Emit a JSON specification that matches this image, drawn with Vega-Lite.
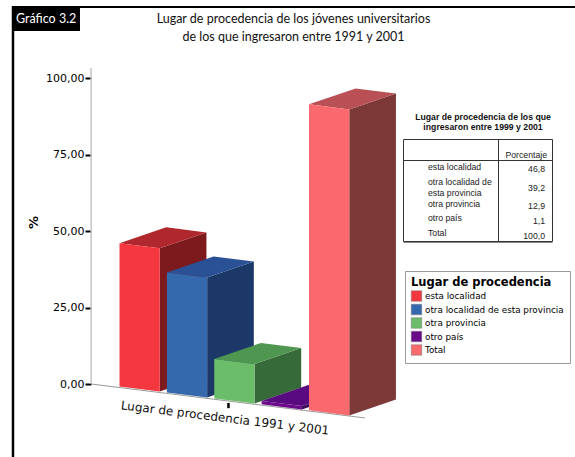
{
"$schema":"https://vega.github.io/schema/vega-lite/v6.json",
"width":575,"height":457,"padding":0,"autosize":{"type":"none"},
"background":"white",
"config":{"view":{"stroke":null}},
"title":{"text":["Lugar de procedencia de los jóvenes universitarios","de los que ingresaron entre 1991 y 2001"],"font":"Lato","fontSize":12.5,"fontWeight":"normal","color":"#111","anchor":"middle","dx":6,"dy":43,"offset":0,"lineHeight":17.5},
"datasets":{
"barras":[
{"procedencia":"esta localidad","porcentaje":46.8},
{"procedencia":"otra localidad de esta provincia","porcentaje":39.2},
{"procedencia":"otra provincia","porcentaje":12.9},
{"procedencia":"otro país","porcentaje":1.1},
{"procedencia":"Total","porcentaje":100}
],
"tabla":[
{"etiqueta":"esta localidad","valor":"46,8"},
{"etiqueta":"otra localidad de esta provincia","valor":"39,2"},
{"etiqueta":"otra provincia","valor":"12,9"},
{"etiqueta":"otro país","valor":"1,1"},
{"etiqueta":"Total","valor":"100,0"}
],
"uno":[{"k":1}]},
"layer":[
{"data":{"name":"uno"},"mark":{"type":"rule","color":"black","strokeWidth":2.5},"encoding":{"x":{"value":13},"x2":{"value":13},"y":{"value":6},"y2":{"value":457}}},
{"data":{"name":"uno"},"mark":{"type":"rule","color":"black","strokeWidth":2},"encoding":{"x":{"value":13},"x2":{"value":575},"y":{"value":7},"y2":{"value":7}}},
{"data":{"name":"uno"},"mark":{"type":"rect","color":"black"},"encoding":{"x":{"value":13},"x2":{"value":80},"y":{"value":7},"y2":{"value":31}}},
{"data":{"values":[{"t":"Gráfico 3.2"}]},"mark":{"type":"text","color":"white","font":"Lato","fontSize":12.5,"align":"left","baseline":"middle"},"encoding":{"text":{"field":"t"},"x":{"value":16},"y":{"value":19}}},

{"data":{"values":[{"v":0,"w":103.3}]},"mark":{"type":"rule","color":"#c4c4c4","strokeWidth":1.5},
"encoding":{"x":{"datum":-0.6,"type":"quantitative","scale":{"domain":[0,4],"range":[119.5,309],"zero":false,"nice":false},"axis":null},
"y":{"field":"v","type":"quantitative","scale":{"domain":[0,100],"range":[384,78],"zero":false,"nice":false},
"axis":{"values":[0,25,50,75,100],"offset":-91,"domain":false,"grid":false,"tickColor":"black","tickWidth":2,"tickSize":6,"labelExpr":"replace(format(datum.value,'.2f'),'.',',')","labelFont":"DejaVu Sans","labelFontSize":11,"labelColor":"black","labelPadding":1,
"title":"%","titleFont":"DejaVu Sans","titleFontSize":13,"titleFontWeight":"bold","titleColor":"black","titleAngle":-90,"titleX":-58,"titleY":222,"titleAlign":"center","titleBaseline":"middle"}},
"y2":{"field":"w"}}},
{"data":{"values":[{"a":0,"b":-11.1}]},"mark":{"type":"rule","color":"#999","strokeWidth":1},
"encoding":{"x":{"datum":-0.6,"type":"quantitative"},"x2":{"datum":5.18},"y":{"field":"a","type":"quantitative"},"y2":{"field":"b"}}},
{"data":{"values":[{"a":-6.2,"b":-7.9}]},"mark":{"type":"rule","color":"black","strokeWidth":2.5},
"encoding":{"x":{"datum":2.3,"type":"quantitative"},"y":{"field":"a","type":"quantitative"},"y2":{"field":"b"}}},

{"data":{"name":"barras"},
"transform":[
{"window":[{"op":"row_number","as":"fila"}]},
{"calculate":"[0,1,2,3]","as":"v"},{"flatten":["v"]},
{"calculate":"1","as":"u"},
{"calculate":"[0,1,1,0][datum.v]","as":"d"},
{"calculate":"[1,1,0,0][datum.v]","as":"t"},
{"calculate":"datum.fila-1+0.85*datum.u+0.985*datum.d","as":"px"},
{"calculate":"-0.8-1.95*(datum.fila-1+0.85*datum.u)+datum.t*datum.porcentaje+5.2*datum.d","as":"py"}
],
"mark":{"type":"line","strokeWidth":0,"strokeOpacity":0},
"encoding":{"x":{"field":"px","type":"quantitative"},"y":{"field":"py","type":"quantitative"},"order":{"field":"v"},
"fill":{"field":"procedencia","type":"nominal","legend":null,"scale":{"domain":["esta localidad","otra localidad de esta provincia","otra provincia","otro país","Total"],"range":["#7D1A1E","#1C3868","#366A39","#3E0A5E","#7D3838"]}}}},

{"data":{"name":"barras"},
"transform":[
{"window":[{"op":"row_number","as":"fila"}]},
{"calculate":"[0,1,2,3]","as":"v"},{"flatten":["v"]},
{"calculate":"[0,1,1,0][datum.v]","as":"u"},
{"calculate":"[0,0,1,1][datum.v]","as":"d"},
{"calculate":"datum.fila-1+0.85*datum.u+0.985*datum.d","as":"px"},
{"calculate":"-0.8-1.95*(datum.fila-1+0.85*datum.u)+datum.porcentaje+5.2*datum.d","as":"py"}
],
"mark":{"type":"line","strokeWidth":0,"strokeOpacity":0},
"encoding":{"x":{"field":"px","type":"quantitative"},"y":{"field":"py","type":"quantitative"},"order":{"field":"v"},
"fill":{"field":"procedencia","type":"nominal","legend":null,"scale":{"domain":["esta localidad","otra localidad de esta provincia","otra provincia","otro país","Total"],"range":["#B0282D","#2A5096","#4F9650","#5A0A80","#B85055"]}}}},

{"data":{"name":"barras"},
"transform":[
{"window":[{"op":"row_number","as":"fila"}]},
{"calculate":"[0,1,2,3]","as":"v"},{"flatten":["v"]},
{"calculate":"[0,1,1,0][datum.v]","as":"u"},
{"calculate":"[1,1,0,0][datum.v]","as":"t"},
{"calculate":"datum.fila-1+0.85*datum.u","as":"px"},
{"calculate":"-0.8-1.95*(datum.fila-1+0.85*datum.u)+datum.t*datum.porcentaje","as":"py"}
],
"mark":{"type":"line","strokeWidth":0,"strokeOpacity":0},
"encoding":{"x":{"field":"px","type":"quantitative"},"y":{"field":"py","type":"quantitative"},"order":{"field":"v"},
"fill":{"field":"procedencia","type":"nominal","scale":{"domain":["esta localidad","otra localidad de esta provincia","otra provincia","otro país","Total"],"range":["#F5383F","#3469AD","#6CBD6A","#6A0A8A","#F9696E"]},
"legend":{"title":"Lugar de procedencia","orient":"none","legendX":405,"legendY":271,"padding":6,"fillColor":"white","strokeColor":"#999","symbolType":"square","symbolSize":110,"symbolStrokeColor":"#777","symbolStrokeWidth":0.5,"titleFont":"DejaVu Sans","titleFontSize":11.5,"titleFontWeight":"bold","titleColor":"black","titlePadding":2,"labelFont":"DejaVu Sans","labelFontSize":8.8,"labelColor":"black","rowPadding":0.5,"labelOffset":3,"labelLimit":200}}}},

{"data":{"values":[{"t":"Lugar de procedencia 1991 y 2001"}]},"mark":{"type":"text","font":"DejaVu Sans","fontSize":12,"angle":7,"color":"#111","align":"center","baseline":"middle"},"encoding":{"text":{"field":"t"},"x":{"value":225},"y":{"value":418}}},

{"data":{"values":[{"t":"Lugar de procedencia de los que"},{"t":"ingresaron entre 1999 y 2001"}]},"transform":[{"window":[{"op":"row_number","as":"n"}]},{"calculate":"107+10*datum.n","as":"yy"}],
"mark":{"type":"text","font":"Liberation Sans","fontSize":8.7,"fontWeight":"bold","color":"#111","align":"center","baseline":"middle"},"encoding":{"text":{"field":"t"},"x":{"value":483},"y":{"field":"yy","type":"quantitative","scale":null,"axis":null}}},
{"data":{"name":"uno"},"mark":{"type":"rect","fill":"white","stroke":"#333","strokeWidth":1},"encoding":{"x":{"value":403.5},"x2":{"value":552.5},"y":{"value":139.5},"y2":{"value":241.5}}},
{"data":{"name":"uno"},"mark":{"type":"rule","color":"#333","strokeWidth":1},"encoding":{"x":{"value":403.5},"x2":{"value":552.5},"y":{"value":160.5},"y2":{"value":160.5}}},
{"data":{"name":"uno"},"mark":{"type":"rule","color":"#333","strokeWidth":1},"encoding":{"x":{"value":498.5},"x2":{"value":498.5},"y":{"value":139.5},"y2":{"value":241.5}}},
{"data":{"name":"uno"},"mark":{"type":"rule","color":"#888","strokeWidth":1},"encoding":{"x":{"value":403.5},"x2":{"value":552.5},"y":{"value":242.5},"y2":{"value":242.5}}},
{"data":{"values":[{"t":"Porcentaje"}]},"mark":{"type":"text","font":"Liberation Sans","fontSize":8.7,"color":"#222","align":"right","baseline":"middle"},"encoding":{"text":{"field":"t"},"x":{"value":547},"y":{"value":155}}},
{"data":{"name":"tabla"},"transform":[
{"calculate":"{'esta localidad':[167],'otra localidad de esta provincia':[182],'otra provincia':[204],'otro país':[218],'Total':[233]}[datum.etiqueta][0]","as":"yy"},
{"calculate":"datum.etiqueta=='otra localidad de esta provincia'?['otra localidad de','esta provincia']:datum.etiqueta","as":"lineas"}],
"mark":{"type":"text","font":"Liberation Sans","fontSize":8.7,"color":"#222","align":"left","baseline":"middle","lineHeight":10.5},
"encoding":{"text":{"field":"lineas"},"x":{"value":428},"y":{"field":"yy","type":"quantitative","scale":null,"axis":null}}},
{"data":{"name":"tabla"},"transform":[
{"calculate":"{'esta localidad':[169],'otra localidad de esta provincia':[188],'otra provincia':[206],'otro país':[221],'Total':[236]}[datum.etiqueta][0]","as":"yy"}],
"mark":{"type":"text","font":"Liberation Sans","fontSize":8.7,"color":"#222","align":"right","baseline":"middle"},
"encoding":{"text":{"field":"valor"},"x":{"value":545},"y":{"field":"yy","type":"quantitative","scale":null,"axis":null}}}
],
"resolve":{"scale":{"fill":"independent"}}
}
